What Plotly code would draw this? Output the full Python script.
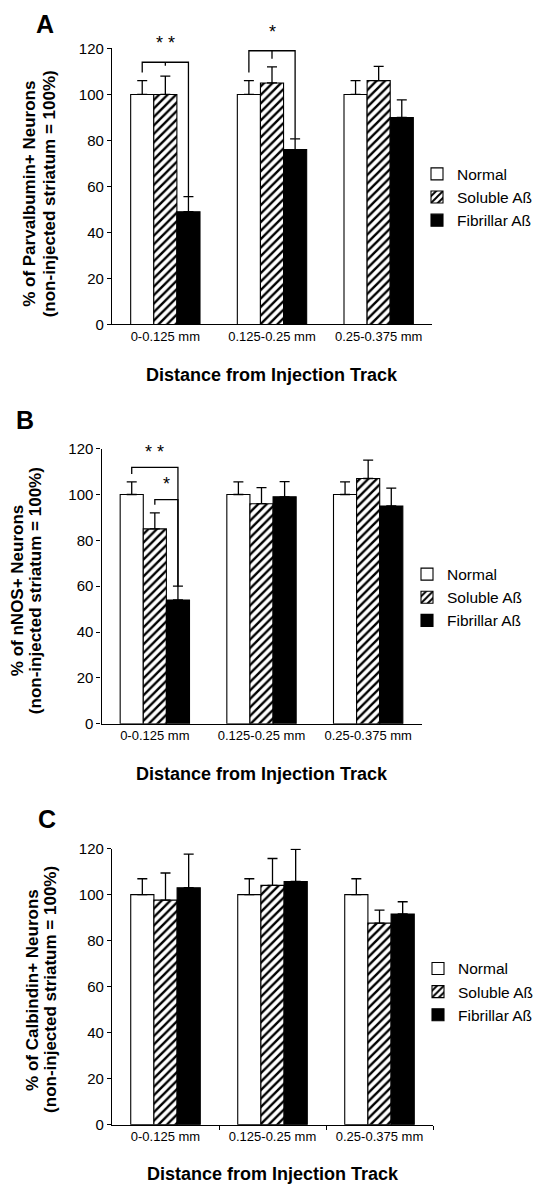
import plotly.graph_objects as go

# ---------------- data ----------------
categories = ["0-0.125 mm", "0.125-0.25 mm", "0.25-0.375 mm"]
series_names = ["Normal", "Soluble Aß", "Fibrillar Aß"]

# Panel A: Parvalbumin
pv_normal = [100, 100, 100]
pv_normal_err = [6, 6, 6]
pv_soluble = [100, 105, 106]
pv_soluble_err = [8, 7, 6.2]
pv_fibrillar = [49, 76, 90]
pv_fibrillar_err = [6.6, 4.7, 7.6]

# Panel B: nNOS
nos_normal = [100, 100, 100]
nos_normal_err = [5.5, 5.5, 5.5]
nos_soluble = [85, 96, 107]
nos_soluble_err = [7, 7, 8]
nos_fibrillar = [54, 99, 95]
nos_fibrillar_err = [6, 6.6, 7.8]

# Panel C: Calbindin
cb_normal = [100, 100, 100]
cb_normal_err = [6.9, 6.9, 6.9]
cb_soluble = [97.6, 104, 87.6]
cb_soluble_err = [11.8, 11.7, 5.7]
cb_fibrillar = [103, 105.7, 91.6]
cb_fibrillar_err = [14.6, 14, 5.3]

y_ticks = [0, 20, 40, 60, 80, 100, 120]

panel_letters = ["A", "B", "C"]
y_title_1 = ["% of Parvalbumin+ Neurons", "% of nNOS+ Neurons", "% of Calbindin+ Neurons"]
y_title_2 = "(non-injected striatum = 100%)"
x_title = "Distance from Injection Track"

# significance brackets
brackets = [
    dict(panel=0, group=0, left=0, right=2, level=114, label="* *", label_level=122.5, tick=1.5),
    dict(panel=0, group=1, left=0, right=2, level=119, label="*", label_level=127, tick=3.5),
    dict(panel=1, group=0, left=0, right=2, level=111.8, label="* *", label_level=118.5, tick=0),
    dict(panel=1, group=0, left=1, right=2, level=97.8, label="*", label_level=104.5, tick=0),
]

# ---------------- layout geometry ----------------
W, H = 549, 1199
FONT = "Liberation Sans, Arial, Helvetica, sans-serif"
BARGAP = 0.35
BAR_W = (1 - BARGAP) / 3

panels = [
    dict(vals=[pv_normal, pv_soluble, pv_fibrillar],
         errs=[pv_normal_err, pv_soluble_err, pv_fibrillar_err],
         x0=112, x1=432, ytop=40, ybot=320, leg_x=417, leg_mid=191,
         letter=(45, 15), ytl=(29.5, 49), yt_c=188, xt_y=371, ticks=False),
    dict(vals=[nos_normal, nos_soluble, nos_fibrillar],
         errs=[nos_normal_err, nos_soluble_err, nos_fibrillar_err],
         x0=101.5, x1=421.5, ytop=446, ybot=725, leg_x=407, leg_mid=597,
         letter=(25, 417), ytl=(17.5, 35.5), yt_c=590, xt_y=776, ticks=False),
    dict(vals=[cb_normal, cb_soluble, cb_fibrillar],
         errs=[cb_normal_err, cb_soluble_err, cb_fibrillar_err],
         x0=112, x1=433, ytop=851.7, ybot=1131.7, leg_x=418, leg_mid=997,
         letter=(47, 822), ytl=(33, 51), yt_c=995, xt_y=1182, ticks=True),
]

fills = [
    dict(color="white", line=dict(color="black", width=1.1)),
    dict(color="white", line=dict(color="black", width=1.1),
         pattern=dict(shape="/", fgcolor="black", bgcolor="white", size=6,
                      solidity=0.4, fillmode="replace")),
    dict(color="black", line=dict(color="black", width=1.1)),
]

LEG_FONT = 15.5

fig = go.Figure()
xs = list(range(len(categories)))
annotations = []
shapes = []


def paper_y(pan, v):
    ytop_p = 1 - pan["ytop"] / H
    ybot_p = 1 - pan["ybot"] / H
    return ybot_p + (ytop_p - ybot_p) * v / 120.0


for p, pan in enumerate(panels):
    sfx = "" if p == 0 else str(p + 1)
    legname = "legend" if p == 0 else f"legend{p + 1}"
    for s, name in enumerate(series_names):
        fig.add_trace(go.Bar(
            x=xs, y=pan["vals"][s], name=name,
            marker=fills[s],
            error_y=dict(type="data", array=pan["errs"][s],
                         arrayminus=[0] * len(xs), symmetric=False,
                         color="black", thickness=1.3, width=5),
            xaxis="x" + sfx, yaxis="y" + sfx, legend=legname,
            showlegend=True, hoverinfo="skip",
        ))
    xdom = [pan["x0"] / W, pan["x1"] / W]
    ydom = [1 - pan["ybot"] / H, 1 - pan["ytop"] / H]
    xa = dict(domain=xdom, range=[-0.5, 2.5], anchor="y" + sfx,
              tickvals=xs, ticktext=categories, showline=True,
              linecolor="black", linewidth=1.3, ticks="",
              tickfont=dict(family=FONT, size=13, color="black"),
              showgrid=False, zeroline=False, fixedrange=True)
    if pan["ticks"]:
        xa["minor"] = dict(tickvals=[0.5, 1.5, 2.5], ticks="outside",
                           ticklen=4, tickcolor="black", tickwidth=1.2)
    ya = dict(domain=ydom, range=[0, 120], anchor="x" + sfx,
              tickvals=y_ticks, showline=True, linecolor="black",
              linewidth=1.3, ticks="outside", ticklen=4, tickwidth=1.2,
              tickcolor="black",
              tickfont=dict(family=FONT, size=15, color="black"),
              showgrid=False, zeroline=False, fixedrange=True)
    fig.layout["xaxis" + sfx] = xa
    fig.layout["yaxis" + sfx] = ya

    fig.layout[legname] = dict(
        x=pan["leg_x"] / W, y=1 - pan["leg_mid"] / H,
        xanchor="left", yanchor="middle", bgcolor="rgba(0,0,0,0)",
        font=dict(family=FONT, size=LEG_FONT, color="black"),
        itemclick=False, itemdoubleclick=False, tracegroupgap=0,
    )

    # panel letter
    annotations.append(dict(
        text=f"<b>{panel_letters[p]}</b>", x=pan["letter"][0] / W,
        y=1 - pan["letter"][1] / H, xref="paper", yref="paper",
        showarrow=False, xanchor="center", yanchor="middle",
        font=dict(family=FONT, size=25, color="black")))
    # y title (two lines)
    for xc, txt in zip(pan["ytl"], [y_title_1[p], y_title_2]):
        annotations.append(dict(
            text=f"<b>{txt}</b>", x=xc / W, y=1 - pan["yt_c"] / H,
            xref="paper", yref="paper", showarrow=False, textangle=-90,
            xanchor="center", yanchor="middle",
            font=dict(family=FONT, size=17, color="black")))
    # x title
    annotations.append(dict(
        text=f"<b>{x_title}</b>", x=(pan["x0"] + pan["x1"]) / 2 / W,
        y=1 - pan["xt_y"] / H, xref="paper", yref="paper",
        showarrow=False, xanchor="center", yanchor="middle",
        font=dict(family=FONT, size=18, color="black")))

# significance brackets
for b in brackets:
    p = b["panel"]
    g = b["group"]
    sfx = "" if p == 0 else str(p + 1)
    pan = panels[p]
    xl = g + (b["left"] - 1) * BAR_W
    xr = g + (b["right"] - 1) * BAR_W
    top_l = pan["vals"][b["left"]][g] + pan["errs"][b["left"]][g]
    top_r = pan["vals"][b["right"]][g] + pan["errs"][b["right"]][g]
    lvl = b["level"]
    path = f"M {xl},{top_l + 3.5} L {xl},{lvl} L {xr},{lvl} L {xr},{top_r}"
    shapes.append(dict(type="path", path=path, xref="x" + sfx, yref="y" + sfx,
                       line=dict(color="black", width=1.3)))
    if b["tick"] > 0:
        xm = g
        shapes.append(dict(type="line", x0=xm, x1=xm, y0=lvl, y1=lvl - b["tick"],
                           xref="x" + sfx, yref="y" + sfx,
                           line=dict(color="black", width=1.3)))
    x_lab = pan["x0"] + ((xl + xr) / 2 + 0.5) / 3.0 * (pan["x1"] - pan["x0"])
    annotations.append(dict(
        text=b["label"], x=x_lab / W, y=paper_y(pan, b["label_level"]),
        xref="paper", yref="paper",
        showarrow=False, xanchor="center", yanchor="middle",
        font=dict(family=FONT, size=18, color="black")))

fig.update_layout(
    width=W, height=H, margin=dict(l=0, r=0, t=0, b=0),
    paper_bgcolor="white", plot_bgcolor="white",
    barmode="group", bargap=BARGAP, bargroupgap=0,
    annotations=annotations, shapes=shapes,
    font=dict(family=FONT, color="black"),
    hovermode=False,
)

fig.write_html(
    "out.html",
    config={"displayModeBar": False},
    post_script="document.body.style.margin='0';document.body.style.overflow='hidden';",
)
